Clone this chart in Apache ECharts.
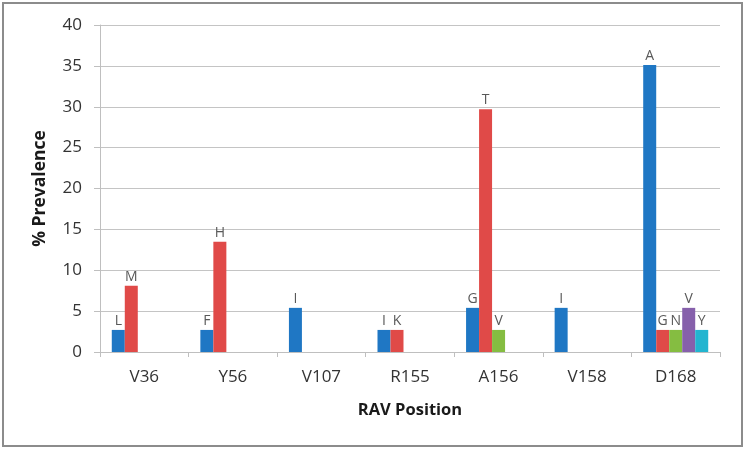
<!DOCTYPE html>
<html>
<head>
<meta charset="utf-8">
<script src="https://cdn.jsdelivr.net/npm/echarts@6/dist/echarts.min.js"></script>
<style>
  html, body { margin: 0; padding: 0; background: #fff; }
  #chart { width: 745px; height: 449px; }
</style>
</head>
<body>
<div id="chart"></div>
<script>
// RAV positions on the x axis
var positions = ['V36', 'Y56', 'V107', 'R155', 'A156', 'V158', 'D168'];
var yTicks = [0, 5, 10, 15, 20, 25, 30, 35, 40];

// one array per substitution slot; null = no bar
var sub1Values = [2.7, 2.7, 5.4, 2.7, 5.4, 5.4, 35.1];
var sub1Letters = ['L', 'F', 'I', 'I', 'G', 'I', 'A'];
var sub2Values = [8.1, 13.5, null, 2.7, 29.7, null, 2.7];
var sub2Letters = ['M', 'H', '', 'K', 'T', '', 'G'];
var sub3Values = [null, null, null, null, 2.7, null, 2.7];
var sub3Letters = ['', '', '', '', 'V', '', 'N'];
var sub4Values = [null, null, null, null, null, null, 5.4];
var sub4Letters = ['', '', '', '', '', '', 'V'];
var sub5Values = [null, null, null, null, null, null, 2.7];
var sub5Letters = ['', '', '', '', '', '', 'Y'];

var colors = ['#1f77c4', '#e04a48', '#85bd41', '#8660ab', '#22b5d0'];
var fontName = 'Open Sans';

function makeSeries(vals, letters, color) {
  return {
    type: 'bar',
    barGap: '0%',
    barCategoryGap: '26.6%',
    itemStyle: { color: color },
    label: {
      show: true,
      position: 'top',
      distance: 2,
      color: '#595959',
      fontFamily: fontName,
      fontSize: 14,
      formatter: function (p) { return letters[p.dataIndex]; }
    },
    data: vals
  };
}

var myChart = echarts.init(document.getElementById('chart'));

var option = {
  animation: false,
  backgroundColor: '#fff',
  grid: { left: 100, right: 25, top: 25, bottom: 97 },
  graphic: [{
    type: 'rect',
    shape: { x: 3, y: 3, width: 739, height: 443 },
    style: { fill: 'none', stroke: '#8c8c8c', lineWidth: 2 },
    silent: true
  }],
  xAxis: {
    type: 'category',
    data: positions,
    name: 'RAV Position',
    nameLocation: 'middle',
    nameGap: 50,
    nameTextStyle: { fontFamily: fontName, fontWeight: 'bold', fontSize: 16.5, color: '#1a1a1a' },
    axisLine: { lineStyle: { color: '#bfbfbf', width: 1 } },
    axisTick: { show: true, length: 5, alignWithLabel: false, lineStyle: { color: '#bfbfbf' } },
    axisLabel: { fontFamily: fontName, fontSize: 17, color: '#333333', margin: 17 }
  },
  yAxis: {
    type: 'value',
    min: yTicks[0],
    max: yTicks[yTicks.length - 1],
    interval: 5,
    name: '% Prevalence',
    nameLocation: 'middle',
    nameGap: 51,
    nameTextStyle: { fontFamily: fontName, fontWeight: 'bold', fontSize: 17.5, color: '#1a1a1a' },
    axisLine: { show: true, lineStyle: { color: '#bfbfbf', width: 1 } },
    axisTick: { show: true, length: 6, lineStyle: { color: '#bfbfbf' } },
    axisLabel: { fontFamily: fontName, fontSize: 17, color: '#333333', margin: 18 },
    splitLine: { lineStyle: { color: '#c4c4c4', width: 1 } }
  },
  series: [
    makeSeries(sub1Values, sub1Letters, colors[0]),
    makeSeries(sub2Values, sub2Letters, colors[1]),
    makeSeries(sub3Values, sub3Letters, colors[2]),
    makeSeries(sub4Values, sub4Letters, colors[3]),
    makeSeries(sub5Values, sub5Letters, colors[4])
  ]
};

myChart.setOption(option);
</script>
</body>
</html>
